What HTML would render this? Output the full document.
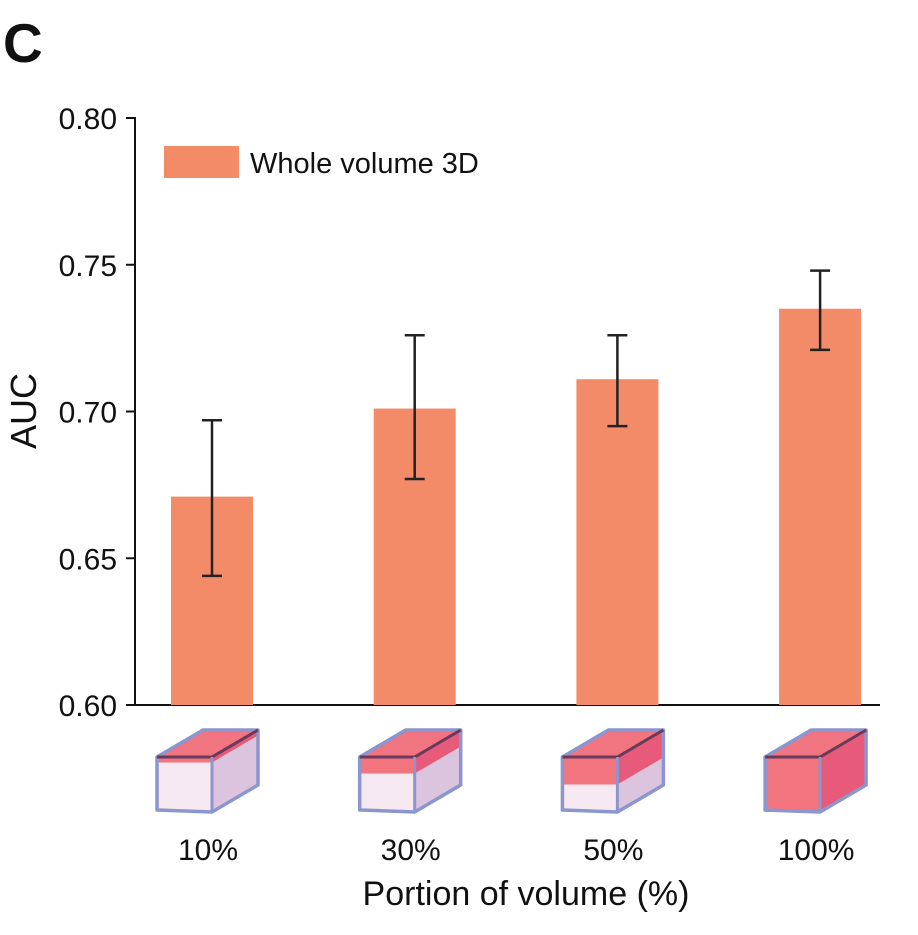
<!DOCTYPE html>
<html><head><meta charset="utf-8"><style>
body{margin:0;background:#fff;}
svg text{font-family:"Liberation Sans",Arial,sans-serif;fill:#111;}
</style></head><body>
<svg id="chart" width="918" height="930" viewBox="0 0 918 930">
<text x="3" y="62" font-size="55" font-weight="bold">C</text>
<g id="axes"></g>
<g id="bars"></g>
<g id="cubes"></g>
<rect x="164" y="146" width="75" height="32" fill="#f48b68"/>
<text x="250" y="173" font-size="29">Whole volume 3D</text>
<text x="526" y="905" font-size="34" text-anchor="middle">Portion of volume (%)</text>
<text transform="translate(36,411) rotate(-90)" font-size="36" text-anchor="middle">AUC</text>
</svg>
<script>
const categories=["10%","30%","50%","100%"];
const values=[0.671,0.701,0.711,0.735];
const errLow=[0.644,0.677,0.695,0.721];
const errHigh=[0.697,0.726,0.726,0.748];
const fillFractions=[0.1,0.3,0.5,1.0];
const yTicks=[0.60,0.65,0.70,0.75,0.80];
const yTickLabels=["0.60","0.65","0.70","0.75","0.80"];
const NS="http://www.w3.org/2000/svg";
function y(v){return 705-(v-0.60)/0.20*587;}
function x(i){return 212+i*202.7;}
function mk(tag,attrs,parent){const e=document.createElementNS(NS,tag);for(const k in attrs)e.setAttribute(k,attrs[k]);parent.appendChild(e);return e;}
const axes=document.getElementById('axes'),bars=document.getElementById('bars'),cubes=document.getElementById('cubes');
let l=mk('line',{x1:135,y1:117,x2:135,y2:706,stroke:'#111','stroke-width':2},axes);


let b=mk('line',{x1:134,y1:705,x2:880,y2:705,stroke:'#111','stroke-width':2},axes);


yTicks.forEach((t,i)=>{
 const tk=mk('line',{x1:126,y1:y(t),x2:135,y2:y(t),stroke:'#111','stroke-width':2},axes);
 
 
 const tx=mk('text',{x:117,y:y(t)+11,'font-size':30,'text-anchor':'end'},axes);
 tx.textContent=yTickLabels[i];
 
 
});
categories.forEach((c,i)=>{
 const cx=x(i);
 const r=mk('rect',{x:cx-41,y:y(values[i]),width:82,height:705-y(values[i]),fill:'#f48b68'},bars);
 
 
 const eb=mk('path',{d:`M${cx} ${y(errLow[i])}V${y(errHigh[i])}M${cx-10} ${y(errLow[i])}H${cx+10}M${cx-10} ${y(errHigh[i])}H${cx+10}`,stroke:'#222','stroke-width':2.5,fill:'none'},bars);
 
 
 const lt=mk('text',{x:cx-4,y:860,'font-size':30,'text-anchor':'middle'},bars);
 lt.textContent=c;
 
 
 const g=mk('g',{},cubes);
 
 
 const x0=cx-55,x1=cx,y0=757,y1=812,dx=46,dy=-27,f=fillFractions[i];
 const yf=y0+(y1-y0)*Math.max(f,0.08);
 mk('polygon',{points:`${x0},${y0} ${x1},${y0} ${x1},${y1} ${x0},${y1-2}`,fill:'#f7e9f1'},g);
 mk('polygon',{points:`${x0},${y0} ${x1},${y0} ${x1},${yf} ${x0},${yf}`,fill:'#f2747e'},g);
 mk('polygon',{points:`${x1},${y0} ${x1+dx},${y0+dy} ${x1+dx},${y1+dy} ${x1},${y1}`,fill:'#dcc4de'},g);
 mk('polygon',{points:`${x1},${y0} ${x1+dx},${y0+dy} ${x1+dx},${yf+dy} ${x1},${yf}`,fill:'#e85a7a'},g);
 mk('polygon',{points:`${x0},${y0} ${x0+dx},${y0+dy} ${x1+dx},${y0+dy} ${x1},${y0}`,fill:'#f07580'},g);
 mk('path',{d:`M${x0} ${y0}L${x0+dx} ${y0+dy}H${x1+dx}V${y1+dy}L${x1} ${y1}L${x0} ${y1-2}Z`,fill:'none',stroke:'#8b96cf','stroke-width':3.5,'stroke-linejoin':'round'},g);
 mk('path',{d:`M${x0} ${y0}H${x1}L${x1+dx} ${y0+dy}`,fill:'none',stroke:'#6b3a5a','stroke-width':3},g);
 mk('line',{x1:x1,y1:y0,x2:x1,y2:y1,stroke:'#8b96cf','stroke-width':3},g);
});
</script>
</body></html>
